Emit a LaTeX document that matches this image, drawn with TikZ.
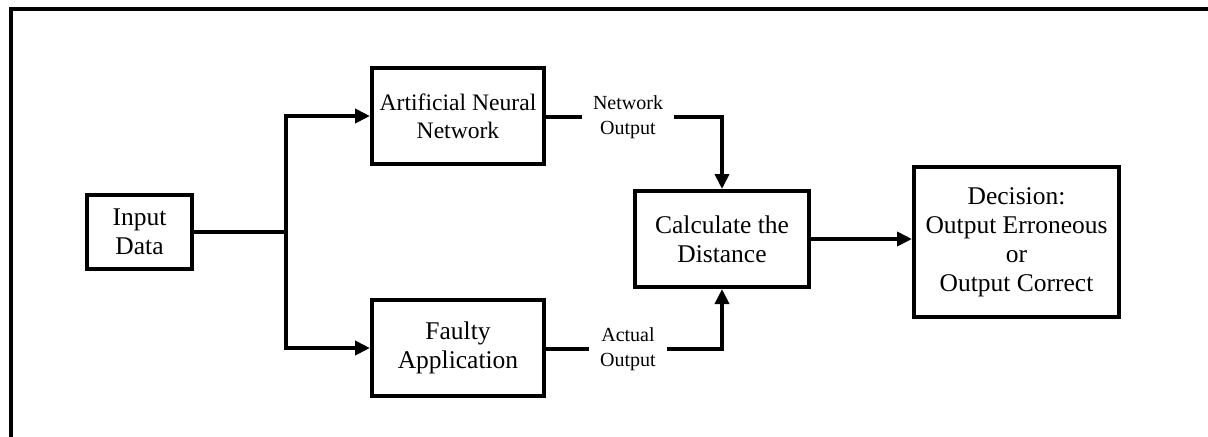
\documentclass[tikz,border=0pt]{standalone}
\usepackage{fontspec}
\setmainfont{Liberation Serif}
\usetikzlibrary{arrows.meta}
\begin{document}
\begin{tikzpicture}[x=0.5pt,y=-0.5pt,
  box/.style={draw, line width=2pt, align=center, inner sep=0pt,
    font=\fontsize{12.75pt}{14.5pt}\selectfont},
  lbl/.style={align=center, inner xsep=5.5pt, inner ysep=0pt,
    font=\fontsize{10pt}{12.5pt}\selectfont},
  conn/.style={line width=1.9pt},
  arr/.style={conn, -{Triangle[length=7.5pt,width=7pt]}}]
\useasboundingbox (0,0) rectangle (1208,436);
% frame
\draw[line width=2pt] (10.5,445) -- (10.5,9) -- (1215,9);
% nodes
\node[box, minimum width=52.5pt, minimum height=37pt] (inp) at (139.5,232) {Input\\Data};
\node[box, minimum width=86pt, minimum height=48pt, font=\fontsize{11.8pt}{14pt}\selectfont] (ann) at (458,116) {Artificial Neural\\Network};
\node[box, minimum width=86pt, minimum height=48pt] (faulty) at (458,348) {Faulty\\Application};
\node[box, minimum width=87pt, minimum height=48pt] (calc) at (722,239) {Calculate the\\Distance};
\node[box, minimum width=102.5pt, minimum height=75pt] (dec) at (1016.5,242) {Decision:\\Output Erroneous\\or\\Output Correct};
\node[lbl] (netl) at (628,117) {Network\\Output};
\node[lbl] (actl) at (628,349) {Actual\\Output};
\coordinate (j) at (286,232);
% connectors
\draw[conn] (inp.east) -- (j);
\draw[arr] (j) |- (ann.west);
\draw[arr] (j) |- (faulty.west);
\draw[conn] (ann.east |- netl) -- (netl.west);
\draw[arr] (netl.east) -| (calc.north);
\draw[conn] (faulty.east |- actl) -- (actl.west);
\draw[arr] (actl.east) -| (calc.south);
\draw[arr] (calc.east) -- (dec.west |- calc.east);
\end{tikzpicture}
\end{document}
